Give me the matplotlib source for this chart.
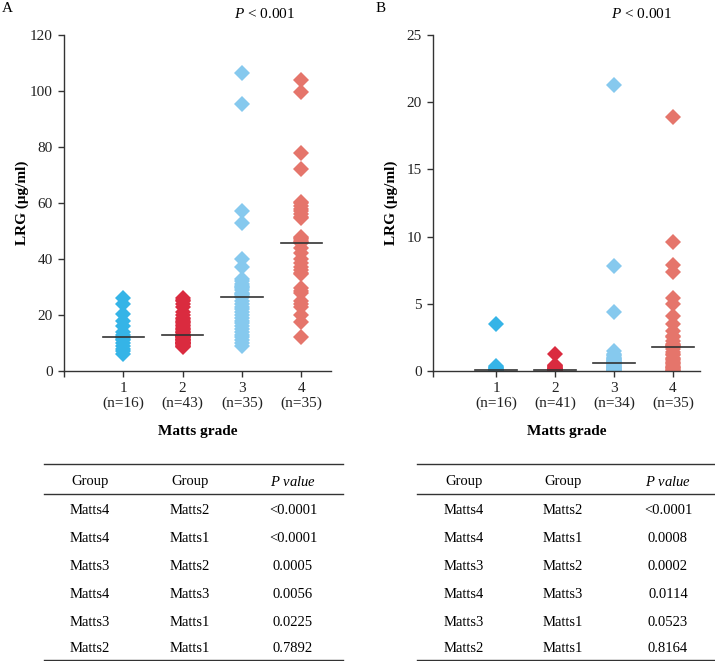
import numpy as np
import matplotlib
matplotlib.use("Agg")
import matplotlib.pyplot as plt

plt.rcParams['font.family'] = ['Liberation Serif', 'DejaVu Serif']
plt.rcParams['mathtext.fontset'] = 'custom'
plt.rcParams['mathtext.rm'] = 'Liberation Serif'
plt.rcParams['mathtext.it'] = 'Liberation Serif:italic'

# ---------------- data ----------------
grades = [1, 2, 3, 4]
colors = ['#35B4E7', '#DA2B3F', '#86C9EE', '#E5756B']

a_n = [16, 43, 35, 35]
a_g1 = [6, 7, 8, 9, 10, 11, 11.5, 12, 12, 13, 14, 16, 18, 20.5, 24, 26]
a_g2 = [8.5, 9, 9, 9.5, 9.5, 10, 10, 10, 10.5, 10.5, 11, 11, 11, 11.5, 11.5, 12, 12, 12,
        12.5, 12.5, 12.5, 12.8, 13, 13.5, 14, 14, 14.5, 15, 15.5, 16, 16.5, 17, 17.5, 18,
        18.5, 19, 20, 21, 23, 24, 25, 25.5, 26]
a_g3 = [9, 10, 11, 12, 13, 14, 15, 16, 17, 18, 19, 20, 21, 22, 23, 24, 25, 26.3,
        26.5, 27, 27.5, 28, 29, 29.5, 30, 30.5, 31, 32, 33, 37, 40, 53, 57, 95.5, 106.5]
a_g4 = [12, 17.5, 20, 23, 24, 25, 28, 28.5, 29.5, 34.5, 35, 36, 37, 38.5, 40, 42, 44,
        45.7, 46, 46.5, 47, 47.5, 48, 54.5, 55, 56, 57, 58, 59, 60, 60.5, 72, 78, 99.5, 104]

b_n = [16, 41, 34, 35]
b_g1 = [0.0, 0.01, 0.02, 0.02, 0.03, 0.04, 0.05, 0.06, 0.08, 0.1, 0.15, 0.2, 0.25, 0.3,
        0.4, 3.5]
b_g2 = [1.25, 0.45, 0.4, 0.35, 0.3, 0.25, 0.2, 0.18, 0.15, 0.12, 0.1, 0.09, 0.08, 0.07,
        0.06, 0.06, 0.05, 0.05, 0.05, 0.05, 0.05, 0.04, 0.04, 0.04, 0.04, 0.03, 0.03,
        0.03, 0.03, 0.02, 0.02, 0.02, 0.02, 0.01, 0.01, 0.01, 0.01, 0.0, 0.0, 0.0, 0.0]
b_g3 = [21.3, 7.8, 4.4, 1.5, 1.3, 1.2, 1.1, 1.0, 0.95, 0.9, 0.85, 0.8, 0.75, 0.7, 0.68,
        0.65, 0.62, 0.58, 0.55, 0.5, 0.45, 0.4, 0.35, 0.3, 0.27, 0.24, 0.2, 0.17, 0.14,
        0.1, 0.07, 0.05, 0.02, 0.0]
b_g4 = [18.9, 9.6, 7.9, 7.4, 5.4, 5.0, 4.1, 3.5, 3.0, 2.6, 2.5, 2.2, 2.0, 1.9, 1.85,
        1.83, 1.82, 1.8, 1.6, 1.4, 1.3, 1.2, 1.0, 0.9, 0.8, 0.7, 0.6, 0.5, 0.4, 0.3,
        0.25, 0.2, 0.1, 0.05, 0.0]

a_yticks = [0, 20, 40, 60, 80, 100, 120]
b_yticks = [0, 5, 10, 15, 20, 25]

table_header = ['Group', 'Group', 'P value']
table_g1 = ['Matts4', 'Matts4', 'Matts3', 'Matts4', 'Matts3', 'Matts2']
table_g2 = ['Matts2', 'Matts1', 'Matts2', 'Matts3', 'Matts1', 'Matts1']
a_pvals = ['<0.0001', '<0.0001', '0.0005', '0.0056', '0.0225', '0.7892']
b_pvals = ['<0.0001', '0.0008', '0.0002', '0.0114', '0.0523', '0.8164']

# ---------------- figure ----------------
W, H = 715, 661
fig = plt.figure(figsize=(W / 100, H / 100), dpi=100)

FS = 11
TFS = 10.5


def px_axes(x0, x1, y_top, y_bot):
    return fig.add_axes([x0 / W, 1 - y_bot / H, (x1 - x0) / W, (y_bot - y_top) / H])


def panel(ax, groups, ns, yticks, xlim):
    for g, vals, c in zip(grades, groups, colors):
        ax.plot(np.full(len(vals), g), vals, linestyle='none', marker='D',
                markersize=8, markeredgewidth=0, color=c, zorder=2)
        med = np.median(vals)
        ax.plot([g - 0.35, g + 0.35], [med, med], color='#333333', lw=1.2, zorder=3)
    ax.set_xlim(*xlim)
    ax.set_ylim(yticks[0], yticks[-1])
    ax.set_yticks(yticks)
    ax.set_xticks([xlim[0]] + grades)
    ax.set_xticklabels([''] + [f'{g}\n(n={n})' for g, n in zip(grades, ns)],
                       linespacing=1.15)
    for s in ['top', 'right']:
        ax.spines[s].set_visible(False)
    for s in ['left', 'bottom']:
        ax.spines[s].set_color('#333333')
        ax.spines[s].set_linewidth(1.0)
    ax.tick_params(axis='both', direction='out', length=4, width=1.0,
                   color='#333333', labelsize=FS, labelcolor='#222222')
    ax.tick_params(axis='x', pad=4)
    ax.tick_params(axis='y', pad=4)
    ax.set_xlabel('Matts grade', fontsize=FS, fontweight='bold', va='top')
    ax.xaxis.set_label_coords(0.5, -54 / 336)
    ax.set_ylabel('LRG (μg/ml)', fontsize=FS, fontweight='bold')
    ax.yaxis.set_label_coords(-35 / 267, 0.5)
    ax.patch.set_alpha(0)


axA = px_axes(64, 331, 35, 371)
panel(axA, [a_g1, a_g2, a_g3, a_g4], a_n, a_yticks, (0, 4.5))
axB = px_axes(433, 700, 35, 371)
panel(axB, [b_g1, b_g2, b_g3, b_g4], b_n, b_yticks, (-0.07, 4.46))

# overlay axes in pixel coordinates for labels and tables
tax = fig.add_axes([0, 0, 1, 1])
tax.set_xlim(0, W)
tax.set_ylim(H, 0)
tax.axis('off')
tax.patch.set_alpha(0)

tax.text(2, 9, 'A', fontsize=FS, ha='left', va='center')
tax.text(376, 9, 'B', fontsize=FS, ha='left', va='center')
tax.text(265, 14, '$P$ < 0.001', fontsize=FS, ha='center', va='center')
tax.text(642, 14, '$P$ < 0.001', fontsize=FS, ha='center', va='center')


def table(x0, x1, cols, pvals):
    lc = '#333333'
    tax.plot([x0, x1], [464, 464], color=lc, lw=1.0)
    tax.plot([x0, x1], [494, 494], color=lc, lw=1.0)
    tax.plot([x0, x1], [660, 660], color=lc, lw=1.0)
    tax.text(cols[0], 482, table_header[0], fontsize=TFS, ha='center', va='center')
    tax.text(cols[1], 482, table_header[1], fontsize=TFS, ha='center', va='center')
    tax.text(cols[2], 482, '$P$ value', fontsize=TFS, ha='center', va='center',
             style='italic')
    rows_y = [511, 538, 566, 594, 622, 649]
    for y, g1, g2, p in zip(rows_y, table_g1, table_g2, pvals):
        tax.text(cols[0], y, g1, fontsize=TFS, ha='center', va='center')
        tax.text(cols[1], y, g2, fontsize=TFS, ha='center', va='center')
        tax.text(cols[2], y, p, fontsize=TFS, ha='center', va='center')


table(44, 343, [90, 190, 293], a_pvals)
table(417, 715, [464, 563, 668], b_pvals)

fig.savefig('out.png', dpi=100)
